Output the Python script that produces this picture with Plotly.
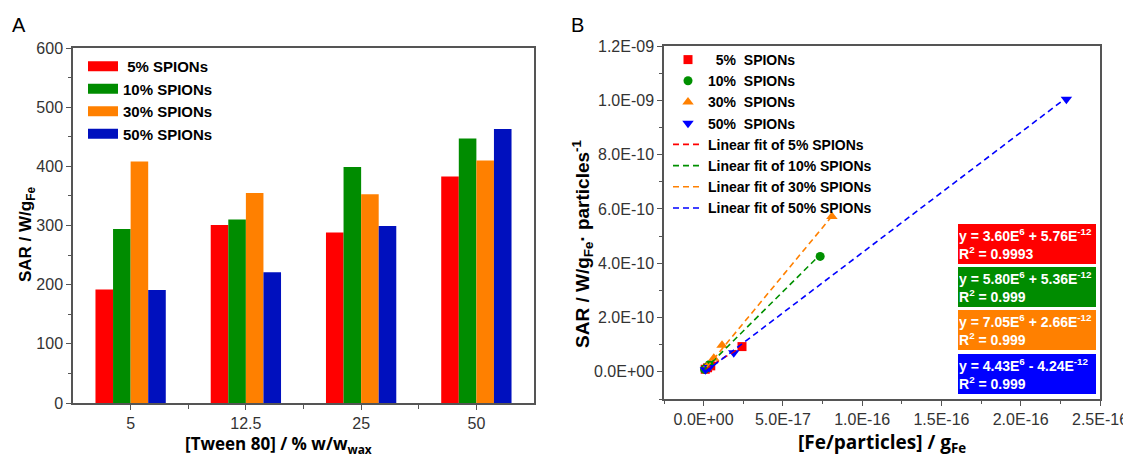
import plotly.graph_objects as go

# The page body adds an 8 px offset; the figure is sized and laid out to compensate.
OFF = 8
FW, FH = 1131 - OFF, 456 - OFF


def px(x):
    return (x - OFF) / FW


def py(y):
    return 1 - (y - OFF) / FH


# ---------------- Panel A data ----------------
tween = ["5", "12.5", "25", "50"]
series = ["\u00a05% SPIONs", "10% SPIONs", "30% SPIONs", "50% SPIONs"]
sar_5 = [192, 301, 288, 383]
sar_10 = [294, 310, 399, 447]
sar_30 = [408, 355, 353, 410]
sar_50 = [191, 221, 299, 463]
bar_colors = ["#FF0000", "#008C00", "#FF8000", "#0010BE"]

# ---------------- Panel B data ----------------
series_b = ["\u00a0\u00a05%\u00a0\u00a0SPIONs", "10%\u00a0\u00a0SPIONs",
            "30%\u00a0\u00a0SPIONs", "50%\u00a0\u00a0SPIONs"]
fit_names = ["Linear fit of 5% SPIONs", "Linear fit of 10% SPIONs",
             "Linear fit of 30% SPIONs", "Linear fit of 50% SPIONs"]
fe_5 = [1.0e-18, 2.5e-18, 4.5e-18, 2.42e-17]
sarp_5 = [9.5e-12, 1.5e-11, 2.2e-11, 9.3e-11]
fe_10 = [0.6e-18, 1.6e-18, 3.6e-18, 7.35e-17]
sarp_10 = [9e-12, 1.4e-11, 2.6e-11, 4.25e-10]
fe_30 = [2.0e-18, 6.4e-18, 1.16e-17, 8.09e-17]
sarp_30 = [1.8e-11, 5.0e-11, 9.8e-11, 5.72e-10]
fe_50 = [1.1e-18, 3.5e-18, 1.9e-17, 2.288e-16]
sarp_50 = [8e-12, 1.6e-11, 7.0e-11, 1.004e-9]

fit_slope = [3.60e6, 5.80e6, 7.05e6, 4.43e6]
fit_icpt = [5.76e-12, 5.36e-12, 2.66e-12, -4.24e-12]
fit_slope_txt = ["3.60", "5.80", "7.05", "4.43"]
fit_icpt_txt = ["+ 5.76", "+ 5.36", "+ 2.66", "- 4.24"]
fit_r2 = ["0.9993", "0.999", "0.999", "0.999"]

marker_colors = ["#FF0000", "#009000", "#FF8000", "#0000FF"]
marker_symbols = ["square", "circle", "triangle-up", "triangle-down"]
box_colors = ["#FF0000", "#008C00", "#FF8000", "#0000FF"]

xtick_b = [0, 5e-17, 1e-16, 1.5e-16, 2e-16, 2.5e-16]
xtick_b_txt = ["0.0E+00", "5.0E-17", "1.0E-16", "1.5E-16", "2.0E-16", "2.5E-16"]
ytick_b = [0, 2e-10, 4e-10, 6e-10, 8e-10, 1e-9, 1.2e-9]
ytick_b_txt = ["0.0E+00", "2.0E-10", "4.0E-10", "6.0E-10", "8.0E-10", "1.0E-09", "1.2E-09"]

ARIAL = "Liberation Sans, Arial, sans-serif"
OPEN = "Open Sans, sans-serif"
AXC = "#555555"

fig = go.Figure()

# Panel A bars
for name, vals, col in zip(series, [sar_5, sar_10, sar_30, sar_50], bar_colors):
    fig.add_trace(go.Bar(x=list(range(len(tween))), y=vals, name=name,
                         marker=dict(color=col, line=dict(width=0)),
                         xaxis="x", yaxis="y", showlegend=False, offsetgroup=name))
    # wide legend swatch
    fig.add_trace(go.Scatter(x=[None], y=[None], mode="lines", name=name,
                             line=dict(color=col, width=10),
                             xaxis="x", yaxis="y", legend="legend", hoverinfo="skip"))

# Panel B points
pts = [(fe_5, sarp_5), (fe_10, sarp_10), (fe_30, sarp_30), (fe_50, sarp_50)]
for i, (xs, ys) in enumerate(pts):
    fig.add_trace(go.Scatter(x=xs, y=ys, mode="markers", name=series_b[i],
                             marker=dict(color=marker_colors[i], symbol=marker_symbols[i],
                                         size=9 if i < 2 else 10),
                             xaxis="x2", yaxis="y2", legend="legend2"))
# Panel B fit lines
for i, (xs, ys) in enumerate(pts):
    x0, x1 = min(xs), max(xs)
    fig.add_trace(go.Scatter(x=[x0, x1],
                             y=[fit_slope[i] * x0 + fit_icpt[i], fit_slope[i] * x1 + fit_icpt[i]],
                             mode="lines", name=fit_names[i],
                             line=dict(color=marker_colors[i], width=1.6, dash="6px,4px"),
                             xaxis="x2", yaxis="y2", legend="legend2"))

# Fit annotation boxes
box_tops = [223, 266, 309, 353]
for i in range(4):
    txt = (f"y = {fit_slope_txt[i]}E<sup>6</sup> {fit_icpt_txt[i]}E<sup>-12</sup>"
           f"<br>R<sup>2</sup> = {fit_r2[i]}")
    fig.add_annotation(xref="paper", yref="paper", x=px(957), y=py(box_tops[i]),
                       xanchor="left", yanchor="top", text=txt, showarrow=False,
                       align="left", valign="middle", width=136, height=38,
                       bgcolor=box_colors[i], bordercolor="white", borderwidth=1,
                       borderpad=1,
                       font=dict(family=ARIAL, size=14, color="white", weight="bold"))


def label(x, y, text, font, angle=0):
    fig.add_annotation(xref="paper", yref="paper", x=px(x), y=py(y), text=text,
                       xanchor="center", yanchor="middle", textangle=angle,
                       showarrow=False, font=font)


# Panel labels and axis titles
label(19, 25, "A", dict(family=ARIAL, size=20, color="black"))
label(577, 25, "B", dict(family=ARIAL, size=20, color="black"))
label(27, 235, "SAR / W/g<sub>Fe</sub>",
      dict(family=ARIAL, size=17, color="black", weight="bold"), -90)
label(278, 444, "[Tween 80] / % w/w<sub>wax</sub>",
      dict(family=OPEN, size=17, color="black", weight="bold"))
label(882, 443, "[Fe/particles] / g<sub>Fe</sub>",
      dict(family=OPEN, size=19, color="black", weight="bold"))
label(582, 244, "SAR / W/g<sub>Fe</sub>· particles<sup>-1</sup>",
      dict(family=ARIAL, size=19, color="black", weight="bold"), -90)

tickfont = dict(family=ARIAL, size=16, color="#333333")
common = dict(showline=True, linecolor=AXC, linewidth=1.5, mirror=True,
              ticks="outside", ticklen=5, tickwidth=1.2, tickcolor=AXC,
              showgrid=False, zeroline=False, tickfont=tickfont, automargin=False)

fig.update_layout(
    width=FW, height=FH,
    margin=dict(l=0, r=0, t=0, b=0),
    paper_bgcolor="white", plot_bgcolor="white",
    barmode="group", bargap=0.39, bargroupgap=0,
    xaxis=dict(domain=[px(73), px(534)], range=[-0.5, 3.5], tickmode="array",
               tickvals=list(range(len(tween))), ticktext=tween,
               minor=dict(tickvals=[0.5, 1.5, 2.5], ticks="outside", ticklen=4,
                          tickcolor=AXC), anchor="y", **common),
    yaxis=dict(domain=[py(403), py(48)], range=[0, 600], tickmode="array",
               tickvals=[0, 100, 200, 300, 400, 500, 600],
               minor=dict(dtick=50, tick0=0, ticks="outside", ticklen=3, tickcolor=AXC),
               anchor="x", **common),
    xaxis2=dict(domain=[px(664), px(1100)], range=[-2.5e-17, 2.5e-16], tickmode="array",
                tickvals=xtick_b, ticktext=xtick_b_txt,
                minor=dict(dtick=2.5e-17, tick0=0, ticks="outside", ticklen=3, tickcolor=AXC),
                anchor="y2", **common),
    yaxis2=dict(domain=[py(399), py(46)], range=[-1e-10, 1.2e-9], tickmode="array",
                tickvals=ytick_b, ticktext=ytick_b_txt,
                minor=dict(dtick=1e-10, tick0=0, ticks="outside", ticklen=3, tickcolor=AXC),
                anchor="x2", **common),
    legend=dict(x=px(83), y=py(50), xanchor="left", yanchor="top",
                bgcolor="rgba(0,0,0,0)", borderwidth=0, tracegroupgap=0,
                font=dict(family=ARIAL, size=15, color="black", weight="bold")),
    legend2=dict(x=px(668), y=py(44), xanchor="left", yanchor="top",
                 bgcolor="rgba(0,0,0,0)", borderwidth=0, tracegroupgap=0,
                 font=dict(family=ARIAL, size=14, color="black", weight="bold")),
)

fig.write_html("out.html")
